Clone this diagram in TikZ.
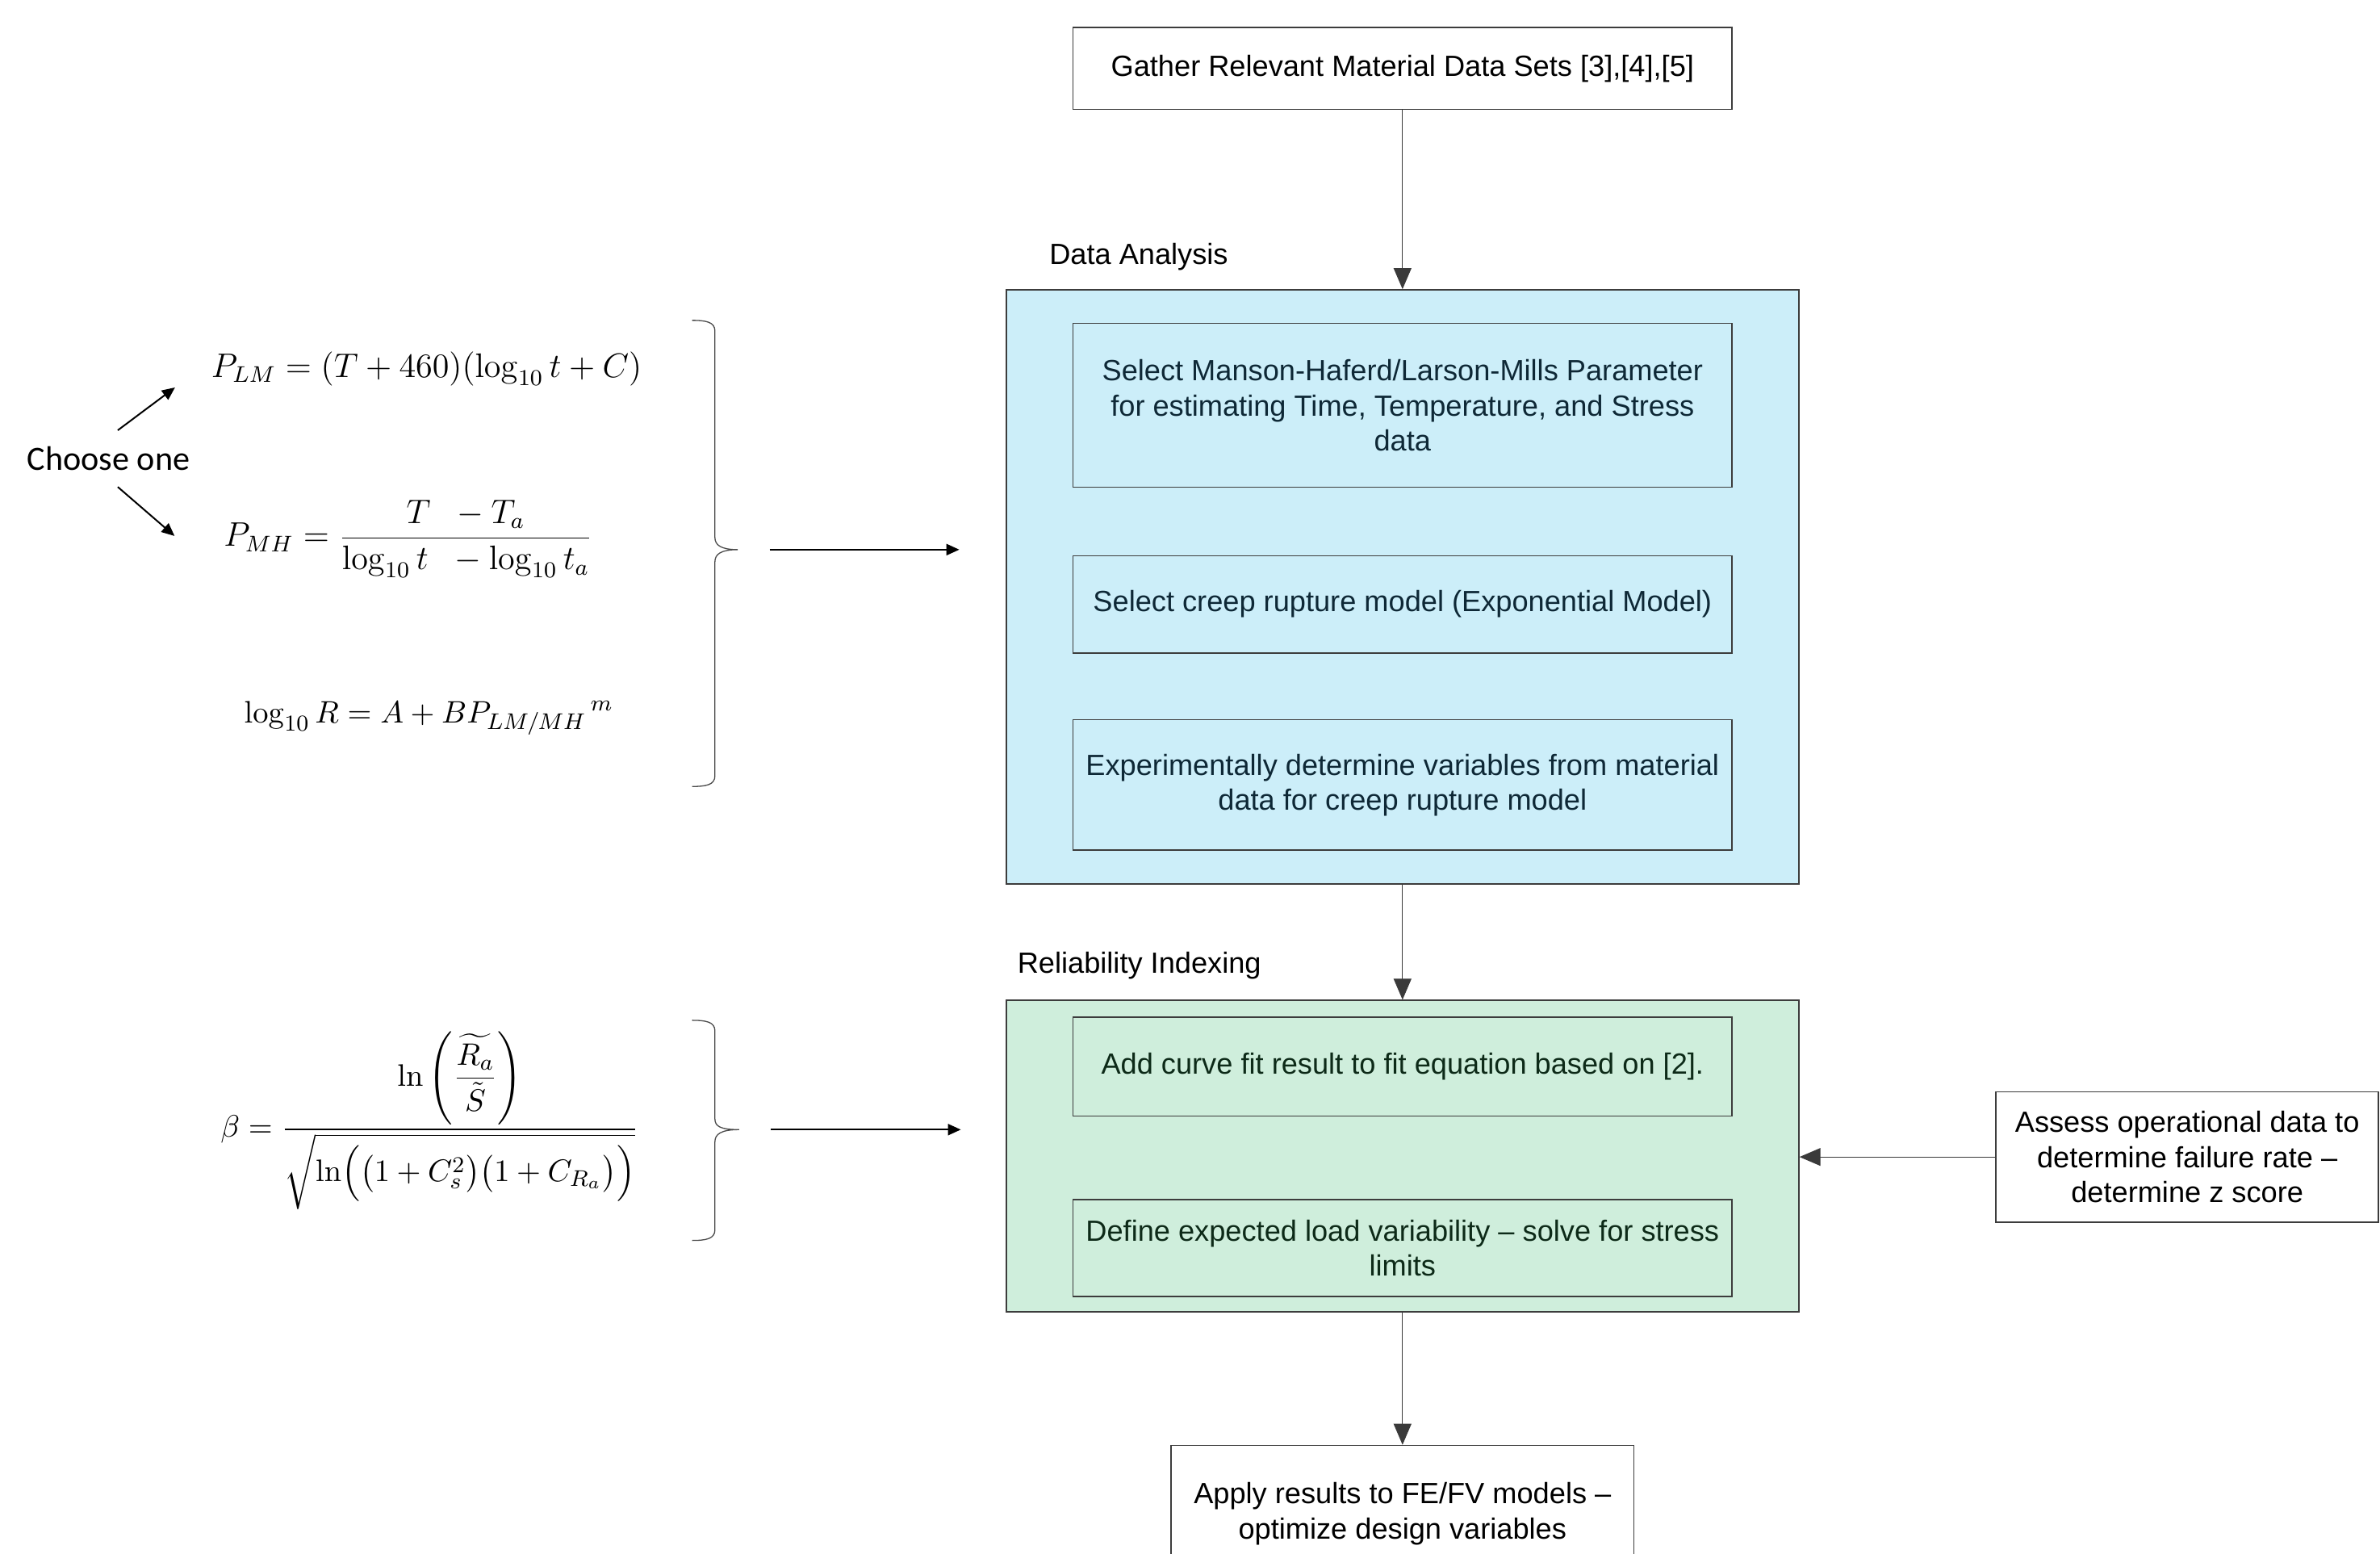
\documentclass[tikz,border=0pt]{standalone}
\usepackage{amsmath}
\usepackage[no-math]{fontspec}
\setmainfont{Liberation Sans}
\newfontfamily\calib{Carlito}
\usetikzlibrary{arrows.meta}
\definecolor{bluefill}{HTML}{CCEEF9}
\definecolor{greenfill}{HTML}{CFEEDC}
\definecolor{boxline}{HTML}{3C3C3C}
\definecolor{connline}{HTML}{3A3A3A}
\definecolor{bracegray}{HTML}{4A4A4A}
\definecolor{bluetext}{HTML}{0E2836}
\definecolor{greentext}{HTML}{0D2A18}
\newcommand\boxfont{\fontsize{10.3pt}{12.3pt}\selectfont}
\tikzset{
  box/.style={draw=boxline, line width=0.15mm, align=center, inner sep=0pt, font=\boxfont},
  container/.style={draw=boxline, line width=0.2mm, inner sep=0pt},
  flow/.style={draw=connline, line width=0.1mm, -{Triangle[length=2.6mm,width=2.2mm]}},
  thinarr/.style={line width=0.2mm, -{Triangle[length=1.6mm,width=1.4mm]}},
  eq/.style={inner sep=0pt, font=\fontsize{12pt}{14pt}\selectfont},
  bracestyle/.style={draw=bracegray, line width=0.13mm},
  grouplabel/.style={anchor=west, inner sep=0pt, font=\boxfont}
}
\begin{document}
\begin{tikzpicture}[x=0.18807mm, y=-0.18807mm]
\clip (0,0) rectangle (1568,1023);
\fill[white] (0,0) rectangle (1568,1023);

% top box
\node[box, fill=white, minimum width=81.62mm, minimum height=10.16mm] (gather) at (924,45)
  {Gather Relevant Material Data Sets [3],[4],[5]};

% Data analysis container
\node[grouplabel] (dalabel) at (691,169) {Data Analysis};
\node[container, fill=bluefill, minimum width=98.17mm, minimum height=73.54mm] (blue) at (924,386.5) {};
\node[box, text=bluetext, minimum width=81.62mm, minimum height=20.31mm] (sel1) at (924,267)
  {Select Manson-Haferd/Larson-Mills Parameter\\for estimating Time, Temperature, and Stress\\data};
\node[box, text=bluetext, minimum width=81.62mm, minimum height=12.04mm] (sel2) at (924,398)
  {Select creep rupture model (Exponential Model)};
\node[box, text=bluetext, minimum width=81.62mm, minimum height=16.17mm] (sel3) at (924,517)
  {Experimentally determine variables from material\\data for creep rupture model};

% Reliability indexing container
\node[grouplabel] (rilabel) at (670,636) {Reliability Indexing};
\node[container, fill=greenfill, minimum width=98.17mm, minimum height=38.55mm] (green) at (924,761.5) {};
\node[box, text=greentext, minimum width=81.62mm, minimum height=12.22mm] (add) at (924,702.5)
  {Add curve fit result to fit equation based on [2].};
\node[box, text=greentext, minimum width=81.62mm, minimum height=12.04mm] (def) at (924,822)
  {Define expected load variability -- solve for stress\\limits};

% side box
\node[box, fill=white, minimum width=47.39mm, minimum height=16.17mm] (assess) at (1441,762)
  {Assess operational data to\\determine failure rate --\\determine z score};

% bottom box
\node[box, fill=white, minimum width=57.36mm, minimum height=16.93mm] (apply) at (924,997)
  {Apply results to FE/FV models --\\optimize design variables};

% connectors
\draw[flow] (gather) -- (blue);
\draw[flow] (blue) -- (green);
\draw[flow] (green) -- (apply);
\draw[flow] (assess.west) -- (assess.west -| green.east);

% left side: equations
\node[inner sep=0pt, font=\calib\fontsize{12pt}{14pt}\selectfont] (choose) at (71.5,302) {Choose one};
\coordinate (c1s) at (77.6,283.4);
\coordinate (c1e) at (115.3,255.2);
\coordinate (c2s) at (77.6,320.7);
\coordinate (c2e) at (115,353);
\draw[thinarr] (c1s) -- (c1e);
\draw[thinarr] (c2s) -- (c2e);

\node[eq] (eqLM) at (281,243) {$P_{LM} = (T+460)(\log_{10} t + C)$};
\node[eq, font=\fontsize{11.8pt}{14pt}\selectfont] (eqMH) at (269,355) {$P_{MH} = \dfrac{T\;\; - T_a}{\log_{10} t\;\; - \log_{10} t_a}$};
\node[eq, font=\fontsize{11.3pt}{14pt}\selectfont] (eqR) at (282.5,473) {$\log_{10} R = A + B{P_{LM/MH}}^{\,m}$};
\node[eq, font=\fontsize{11.3pt}{14pt}\selectfont] (eqbeta) at (283,738)
  {$\beta = \dfrac{\ln\left(\dfrac{\widetilde{R_a}}{\tilde{S}}\right)}{\sqrt{\ln\Bigl(\bigl(1+C_s^2\bigr)\bigl(1+C_{R_a}\bigr)\Bigr)}}$};

% braces
\draw[bracestyle] (456,211) .. controls (465,211) and (471,212) .. (471,218) -- (471,354)
  .. controls (471,359) and (475,362) .. (486,362)
  .. controls (475,362) and (471,365) .. (471,370) -- (471,511)
  .. controls (471,517) and (465,518) .. (456,518);
\draw[bracestyle] (456,672) .. controls (465,672) and (471,673) .. (471,679) -- (471,737)
  .. controls (471,742) and (475,744) .. (487,744)
  .. controls (475,744) and (471,747) .. (471,752) -- (471,810)
  .. controls (471,816) and (465,817) .. (456,817);

\coordinate (b1s) at (507,362);
\coordinate (b1e) at (632,362);
\coordinate (b2s) at (508,744);
\coordinate (b2e) at (633,744);
\draw[thinarr] (b1s) -- (b1e);
\draw[thinarr] (b2s) -- (b2e);
\end{tikzpicture}
\end{document}
